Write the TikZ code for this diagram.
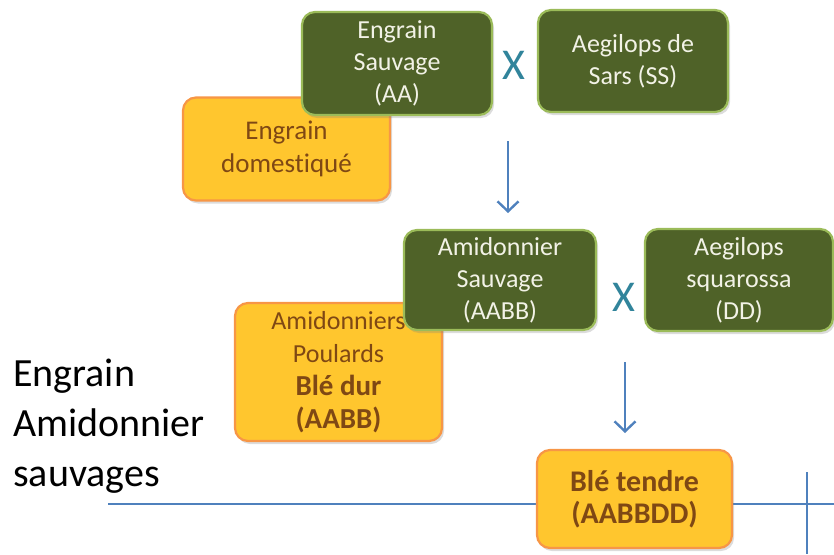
\documentclass[tikz,border=0pt]{standalone}
\usepackage{fontspec}
\setmainfont{Carlito}[Ligatures=NoCommon]
\usetikzlibrary{arrows.meta,shadows}
\definecolor{gfill}{HTML}{4F6228}
\definecolor{gborder}{HTML}{9BBB59}
\definecolor{gtext}{HTML}{F2F2E6}
\definecolor{yfill}{HTML}{FFC62E}
\definecolor{yborder}{HTML}{F79646}
\definecolor{ytext}{HTML}{7F4814}
\definecolor{lineblue}{HTML}{4F81BD}
\definecolor{xteal}{HTML}{31849B}
\tikzset{
  gbox/.style={draw=gborder, line width=2.2pt, fill=gfill, rounded corners=13pt,
    text=gtext, align=center, font=\fontsize{26}{32}\selectfont, inner sep=0pt,
    drop shadow={opacity=0.28, shadow xshift=2pt, shadow yshift=-3pt}},
  ybox/.style={draw=yborder, line width=2.2pt, fill=yfill, rounded corners=13pt,
    text=ytext, align=center, font=\fontsize{27}{33}\selectfont, inner sep=0pt,
    drop shadow={opacity=0.28, shadow xshift=2pt, shadow yshift=-3pt}},
  cross/.style={text=xteal, font=\fontsize{44}{44}\selectfont, inner sep=0pt},
  flow/.style={draw=lineblue, line width=2.4pt, -{Straight Barb[length=10pt,width=21pt,line width=2.4pt]}},
  rule/.style={draw=lineblue, line width=2.2pt},
}
\newcommand{\bigb}[1]{{\bfseries\fontsize{29}{33}\selectfont #1}}
\begin{document}
\begin{tikzpicture}[x=1pt,y=-1pt]
\useasboundingbox (0,0) rectangle (834,554);
% baseline rules
\coordinate (hl) at (108,504);
\coordinate (hr) at (834,504);
\coordinate (vt) at (807,472);
\coordinate (vb) at (807,554);
\draw[rule] (hl) -- (hr);
\draw[rule] (vt) -- (vb);
% top row
\node[ybox, minimum width=207pt, minimum height=103pt] (edom) at (286.5,149) {Engrain\\domestiqué};
\node[gbox, minimum width=190pt, minimum height=103pt] (esau) at (397,63.5) {Engrain\\Sauvage\\(AA)};
\node[gbox, minimum width=190pt, minimum height=102pt] (asars) at (633,61) {Aegilops de\\Sars (SS)};
\node[cross] (x1) at (514,65) {X};
% second row
\node[ybox, minimum width=207pt, minimum height=138pt, font=\fontsize{26}{33}\selectfont] (apou) at (338.5,372) {Amidonniers\\Poulards\\\bigb{Blé dur}\\\bigb{(AABB)}};
\node[gbox, minimum width=192pt, minimum height=100pt] (asau) at (500,280) {Amidonnier\\Sauvage\\(AABB)};
\node[gbox, minimum width=188pt, minimum height=102pt] (asq) at (739,280) {Aegilops\\squarossa\\(DD)};
\node[cross] (x2) at (624,297) {X};
% bottom
\node[ybox, minimum width=195pt, minimum height=98pt, font=\bfseries\fontsize{30}{32}\selectfont] (bt) at (634.5,499) {Blé tendre\\(AABBDD)};
% arrows
\coordinate (a1s) at (508,141);
\coordinate (a1e) at (508,213);
\coordinate (a2s) at (625,362);
\coordinate (a2e) at (625,433);
\draw[flow] (a1s) -- (a1e);
\draw[flow] (a2s) -- (a2e);
% left label
\node[anchor=base west, align=left, inner sep=0pt, font=\fontsize{40}{50}\selectfont] (lbl) at (13,486) {Engrain\\Amidonnier\\sauvages};
\end{tikzpicture}
\end{document}
